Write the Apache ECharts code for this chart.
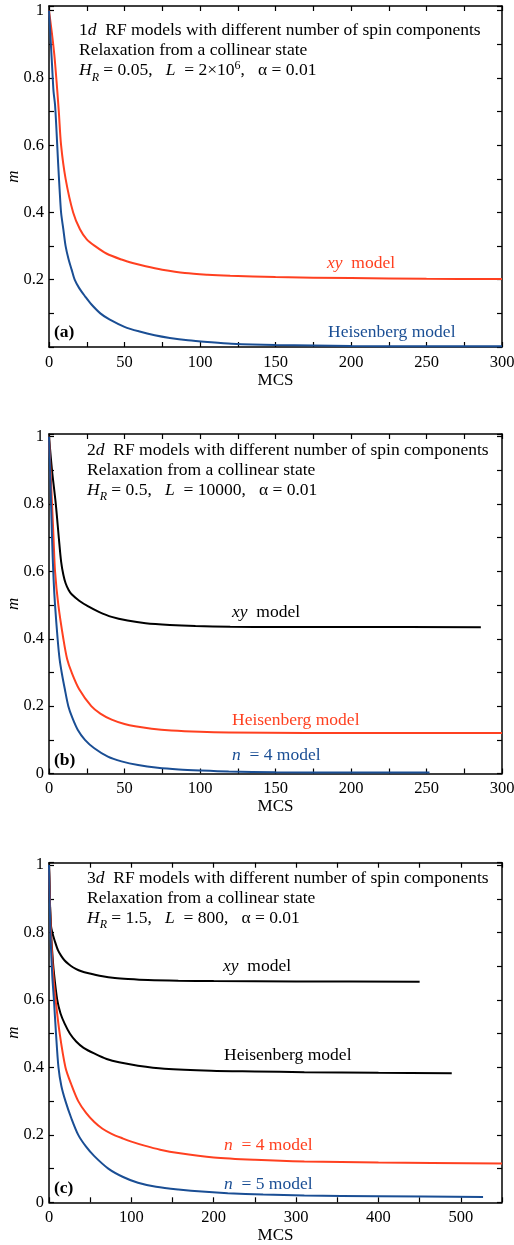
<!DOCTYPE html>
<html>
<head>
<meta charset="utf-8">
<script src="https://cdn.jsdelivr.net/npm/echarts@6/dist/echarts.min.js"></script>
<style>
  html, body { margin: 0; padding: 0; background: #fff; }
  .panel { position: absolute; left: 0; width: 514px; height: 415px; }
</style>
</head>
<body>
<div id="pa" class="panel" style="top:0"></div>
<div id="pb" class="panel" style="top:415px"></div>
<div id="pc" class="panel" style="top:830px"></div>
<script>
// (a) 1d
var aXyMcs = [0, 2, 3.5, 5, 6.5, 8, 11, 16, 20.5, 25, 30.5, 38, 48, 56, 64, 75, 90, 105, 120, 150, 200, 250, 300];
var aXyM   = [1, 0.93, 0.87, 0.79, 0.7, 0.6, 0.5, 0.4, 0.35, 0.32, 0.3, 0.278, 0.26, 0.249, 0.24, 0.23, 0.22, 0.215, 0.212, 0.208, 0.205, 0.203, 0.202];
var aHeisMcs = [0, 1, 2, 3, 4, 5, 6, 7, 8, 9.5, 11, 13, 15, 17, 20, 24, 28, 34, 40, 50, 60, 70, 80, 92, 105, 121, 150, 200, 250, 300];
var aHeisM   = [1, 0.92, 0.84, 0.76, 0.72, 0.64, 0.55, 0.47, 0.4, 0.35, 0.3, 0.26, 0.23, 0.2, 0.175, 0.15, 0.127, 0.1, 0.082, 0.06, 0.046, 0.035, 0.027, 0.02, 0.015, 0.01, 0.006, 0.003, 0.002, 0.002];

// (b) 2d
var bXyMcs = [0, 2, 4.5, 6.5, 8, 9.5, 11, 13, 15, 20, 26, 33, 41.5, 52, 64, 80, 97, 120, 152, 200, 286];
var bXyM   = [1, 0.9, 0.8, 0.7, 0.63, 0.59, 0.565, 0.545, 0.532, 0.513, 0.496, 0.48, 0.465, 0.454, 0.446, 0.441, 0.438, 0.436, 0.435, 0.435, 0.434];
var bHeisMcs = [0, 1, 2, 3, 4, 6.2, 9.5, 12, 15, 20, 28, 34, 41.5, 50, 57, 68, 81, 100, 119, 170, 230, 300];
var bHeisM   = [1, 0.9, 0.8, 0.7, 0.6, 0.5, 0.4, 0.34, 0.3, 0.25, 0.2, 0.178, 0.16, 0.147, 0.14, 0.133, 0.128, 0.124, 0.122, 0.12, 0.12, 0.12];
var bN4Mcs = [0, 1, 2, 3, 4, 5.7, 7, 8.4, 10.5, 12.8, 15.5, 19, 23.8, 30, 39, 48, 59, 72, 86, 100, 119, 150, 200, 252];
var bN4M   = [1, 0.86, 0.7, 0.58, 0.5, 0.4, 0.34, 0.3, 0.25, 0.2, 0.165, 0.13, 0.1, 0.075, 0.05, 0.036, 0.025, 0.017, 0.012, 0.009, 0.006, 0.004, 0.003, 0.003];

// (c) 3d
var cXyMcs = [0, 1, 2.4, 4, 7, 11, 15, 19, 24, 29, 36, 43, 52, 65, 80, 96, 120, 157, 200, 300, 450];
var cXyM   = [1, 0.9, 0.82, 0.8, 0.775, 0.747, 0.73, 0.717, 0.706, 0.697, 0.688, 0.682, 0.677, 0.67, 0.665, 0.662, 0.659, 0.657, 0.656, 0.655, 0.654];
var cHeisMcs = [0, 1, 2, 4, 6, 10, 14, 19, 25.5, 33, 42, 56, 70, 85, 108, 140, 197, 250, 310, 400, 489];
var cHeisM   = [1, 0.9, 0.82, 0.74, 0.68, 0.6, 0.56, 0.53, 0.5, 0.477, 0.458, 0.44, 0.425, 0.415, 0.405, 0.396, 0.39, 0.388, 0.386, 0.384, 0.383];
var cN4Mcs = [0, 1, 2, 4, 6, 8, 13, 20, 27, 35.5, 45, 55, 65, 76, 90, 100, 116, 135, 157, 200, 250, 310, 400, 550];
var cN4M   = [1, 0.9, 0.82, 0.72, 0.65, 0.6, 0.5, 0.4, 0.35, 0.3, 0.265, 0.238, 0.218, 0.203, 0.189, 0.18, 0.168, 0.156, 0.146, 0.133, 0.126, 0.121, 0.118, 0.115];
var cN5Mcs = [0, 1, 2, 4, 6, 8.5, 11.5, 15, 20, 27, 35.5, 45, 55, 72, 90, 108, 130, 157, 190, 217, 260, 310, 400, 527];
var cN5M   = [1, 0.87, 0.78, 0.67, 0.6, 0.5, 0.4, 0.345, 0.3, 0.25, 0.2, 0.165, 0.137, 0.1, 0.075, 0.058, 0.046, 0.038, 0.031, 0.027, 0.023, 0.02, 0.018, 0.016];

var RED = '#ff4020';
var BLUE = '#1a4e94';
var BLACK = '#000000';
var FONT = 'Liberation Serif';

function zip(xs, ys) {
    var res = [];
    for (var i = 0; i < xs.length; i++) {
        res.push([xs[i], ys[i]]);
    }
    return res;
}

var rich = {
    i: { fontFamily: FONT, fontSize: 17.5, fontStyle: 'italic', verticalAlign: 'middle' },
    sub: { fontFamily: FONT, fontSize: 12, fontStyle: 'italic', padding: [14, 0, 0, 0], verticalAlign: 'middle' },
    sup: { fontFamily: FONT, fontSize: 12, padding: [0, 0, 9, 0], verticalAlign: 'middle' }
};

function txt(x, y, text, color, bold) {
    var r = {};
    Object.keys(rich).forEach(function (k) {
        r[k] = Object.assign({ fill: color }, rich[k]);
    });
    return {
        type: 'text', x: x, y: y, silent: true,
        style: {
            text: text, fill: color, rich: r,
            font: (bold ? 'bold ' : '') + '17.5px "' + FONT + '"',
            align: 'left', verticalAlign: 'middle'
        }
    };
}

function axisLine() {
    return { show: true, onZero: false, lineStyle: { color: '#000', width: 1.5 } };
}
function axisTick() {
    return { show: true, inside: true, length: 5, lineStyle: { color: '#000', width: 1.2 } };
}

function drawPanel(id, p, lines, texts) {
    var xLabel = {
        fontFamily: FONT, fontSize: 16.5, color: '#000', margin: 7,
        formatter: function (v) {
            var k = v / p.xLabelStep;
            return Math.abs(k - Math.round(k)) < 1e-6 ? String(v) : '';
        }
    };
    var yLabel = {
        fontFamily: FONT, fontSize: 16.5, color: '#000', margin: 5,
        formatter: function (v) {
            var k = v / 0.2;
            if (Math.abs(k - Math.round(k)) > 1e-6 || v > 1.0001) return '';
            if (v === 0 && !p.showZero) return '';
            return String(+v.toFixed(1));
        }
    };
    var chart = echarts.init(document.getElementById(id));
    chart.setOption({
        animation: false,
        backgroundColor: '#fff',
        grid: [{ left: 49, right: 12, top: p.top, height: p.height, outerBoundsMode: 'none' }],
        xAxis: [
            {
                type: 'value', gridIndex: 0, position: 'bottom', min: 0, max: p.xMax, interval: p.xStep,
                name: 'MCS', nameLocation: 'middle', nameGap: 25, nameMoveOverlap: false,
                nameTextStyle: { fontFamily: FONT, fontSize: 17, color: '#000' },
                axisLine: axisLine(), axisTick: axisTick(), axisLabel: xLabel, splitLine: { show: false }
            },
            {
                type: 'value', gridIndex: 0, position: 'top', min: 0, max: p.xMax, interval: p.xStep,
                axisLine: axisLine(), axisTick: axisTick(), axisLabel: { show: false }, splitLine: { show: false }
            }
        ],
        yAxis: [
            {
                type: 'value', gridIndex: 0, position: 'left', min: 0, max: p.yMax, interval: 0.1,
                name: 'm', nameLocation: 'middle', nameGap: 27, nameMoveOverlap: false,
                nameTextStyle: { fontFamily: FONT, fontSize: 17, fontStyle: 'italic', color: '#000' },
                axisLine: axisLine(), axisTick: axisTick(), axisLabel: yLabel, splitLine: { show: false }
            },
            {
                type: 'value', gridIndex: 0, position: 'right', min: 0, max: p.yMax, interval: 0.1,
                axisLine: axisLine(), axisTick: axisTick(), axisLabel: { show: false }, splitLine: { show: false }
            }
        ],
        series: lines.map(function (l) {
            return {
                type: 'line', xAxisIndex: 0, yAxisIndex: 0,
                data: zip(l[0], l[1]),
                showSymbol: false, smooth: 0.3, silent: true,
                lineStyle: { color: l[2], width: 2 },
                itemStyle: { color: l[2] }
            };
        }),
        graphic: texts
    });
}

drawPanel('pa',
    { top: 6, height: 341, xMax: 300, xStep: 25, xLabelStep: 50, yMax: 1.014, showZero: false },
    [[aXyMcs, aXyM, RED], [aHeisMcs, aHeisM, BLUE]],
    [
        txt(79, 30, '1{i|d}  RF models with different number of spin components', BLACK),
        txt(79, 50, 'Relaxation from a collinear state', BLACK),
        txt(79, 70.7, '{i|H}{sub|R} = 0.05,   {i|L}  = 2×10{sup|6},   α = 0.01', BLACK),
        txt(327, 263, '{i|xy}  model', RED),
        txt(328, 332, 'Heisenberg model', BLUE),
        txt(54, 332, '(a)', BLACK, true)
    ]);

drawPanel('pb',
    { top: 19, height: 339.5, xMax: 300, xStep: 25, xLabelStep: 50, yMax: 1.008, showZero: true },
    [[bXyMcs, bXyM, BLACK], [bHeisMcs, bHeisM, RED], [bN4Mcs, bN4M, BLUE]],
    [
        txt(87, 35, '2{i|d}  RF models with different number of spin components', BLACK),
        txt(87, 55, 'Relaxation from a collinear state', BLACK),
        txt(87, 75, '{i|H}{sub|R} = 0.5,   {i|L}  = 10000,   α = 0.01', BLACK),
        txt(232, 197.7, '{i|xy}  model', BLACK),
        txt(232, 305, 'Heisenberg model', RED),
        txt(232, 340.7, '{i|n}  = 4 model', BLUE),
        txt(54, 345.7, '(b)', BLACK, true)
    ]);

drawPanel('pc',
    { top: 32.7, height: 339.6, xMax: 550, xStep: 50, xLabelStep: 100, yMax: 1.007, showZero: true },
    [[cXyMcs, cXyM, BLACK], [cHeisMcs, cHeisM, BLACK], [cN4Mcs, cN4M, RED], [cN5Mcs, cN5M, BLUE]],
    [
        txt(87, 48.3, '3{i|d}  RF models with different number of spin components', BLACK),
        txt(87, 68.3, 'Relaxation from a collinear state', BLACK),
        txt(87, 88.3, '{i|H}{sub|R} = 1.5,   {i|L}  = 800,   α = 0.01', BLACK),
        txt(223, 136.7, '{i|xy}  model', BLACK),
        txt(224, 225.7, 'Heisenberg model', BLACK),
        txt(224, 315, '{i|n}  = 4 model', RED),
        txt(224, 354.3, '{i|n}  = 5 model', BLUE),
        txt(54, 358, '(c)', BLACK, true)
    ]);
</script>
</body>
</html>
